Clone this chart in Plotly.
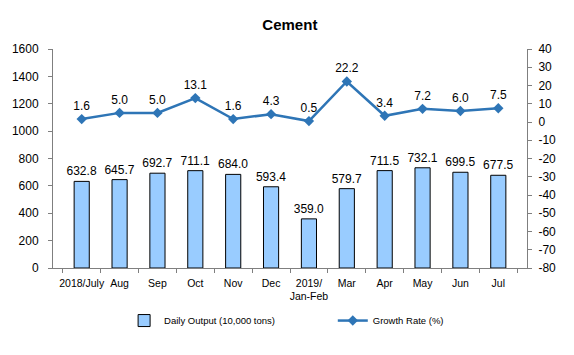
import plotly.graph_objects as go

categories = ["2018/July", "Aug", "Sep", "Oct", "Nov", "Dec", "2019/<br>Jan-Feb",
              "Mar", "Apr", "May", "Jun", "Jul"]
daily_output = [632.8, 645.7, 692.7, 711.1, 684.0, 593.4, 359.0, 579.7, 711.5, 732.1, 699.5, 677.5]
growth_rate = [1.6, 5.0, 5.0, 13.1, 1.6, 4.3, 0.5, 22.2, 3.4, 7.2, 6.0, 7.5]
growth_ticks = [-80, -70, -60, -50, -40, -30, -20, -10, 0, 10, 20, 30, 40]

font_family = "Liberation Sans, Arial, sans-serif"
nbsp = "\u00a0"

fig = go.Figure()
fig.add_trace(go.Bar(
    x=categories, y=daily_output, name="Daily Output (10,000 tons)" + nbsp * 20,
    marker=dict(color="#99CCFF", line=dict(color="#000000", width=1)),
    text=[f"{v:.1f}" for v in daily_output], textposition="outside",
    constraintext="none",
    textfont=dict(size=12, color="#000000"), cliponaxis=False,
))
fig.add_trace(go.Scatter(
    x=categories, y=growth_rate, name="Growth Rate (%)", yaxis="y2",
    mode="lines+markers+text",
    line=dict(color="#2E75B6", width=2.5),
    marker=dict(symbol="diamond", size=8, color="#2E75B6"),
    text=[f"{v:.1f}" for v in growth_rate], textposition="top center",
    textfont=dict(size=12, color="#000000"), cliponaxis=False,
))

fig.update_layout(
    width=574, height=355,
    margin=dict(l=53, r=47, t=49, b=87),
    paper_bgcolor="white", plot_bgcolor="white",
    font=dict(family=font_family, size=12, color="#000000"),
    title=dict(text="<b>Cement</b>", x=0.505, xanchor="center", y=0.93, yanchor="middle",
               font=dict(size=15, color="#000000")),
    bargap=0.6,
    showlegend=True,
    legend=dict(orientation="h", x=0.15, xanchor="left", y=-0.24, yanchor="middle",
                font=dict(size=9.5), itemwidth=30, traceorder="normal"),
    xaxis=dict(type="category", showline=True, linecolor="#7f7f7f", linewidth=1,
               ticks="outside", tickson="boundaries", ticklen=4, tickcolor="#7f7f7f",
               tickfont=dict(size=10.5), tickangle=0, showgrid=False,
               ticklabelstandoff=5),
    yaxis=dict(range=[0, 1600], dtick=200, showline=True, linecolor="#7f7f7f",
               ticks="outside", ticklen=4, tickcolor="#7f7f7f", showgrid=False,
               tickfont=dict(size=12), zeroline=False, ticklabelstandoff=7),
    yaxis2=dict(range=[-80, 40], tickvals=growth_ticks,
                ticktext=[str(v) for v in growth_ticks],
                overlaying="y", side="right", showline=True,
                linecolor="#7f7f7f", ticks="outside", ticklen=4, tickcolor="#7f7f7f",
                showgrid=False, zeroline=False, tickfont=dict(size=12),
                ticklabelstandoff=4),
)

fig.write_html("out.html", config={"displayModeBar": False},
               post_script="document.body.style.margin='0';")
